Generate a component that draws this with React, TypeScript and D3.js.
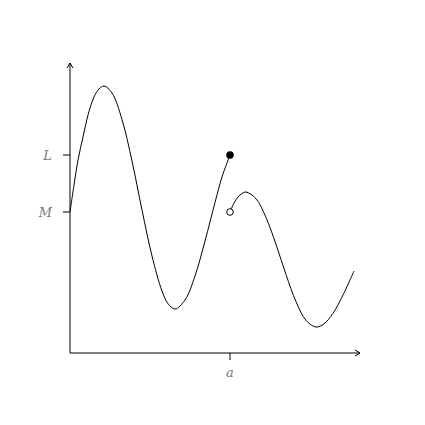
import React from "react";
import * as d3 from "d3";

// curve pieces, in axis units (origin at the axes corner)
const pieceLeft: [number, number][] = [
  [0, 141], [4, 168], [8, 193], [13, 216], [18, 238], [24, 256], [29, 264],
  [34, 267], [42, 260], [52, 233.5], [62, 192], [72, 143], [82, 97], [92, 62],
  [98, 49.4], [105, 44], [115, 53], [125, 77], [135, 112], [145, 150.5],
  [152, 176], [160, 198],
];
const pieceRight: [number, number][] = [
  [160, 141], [164, 150], [168, 156], [172, 159.5], [176, 161], [186, 154.3],
  [196, 135.5], [206, 108.6], [216, 78.4], [226, 51.4], [236, 32.7], [246, 26],
  [254, 29.2], [263, 39.7], [273, 58], [284, 82],
];
const yTicks = [{ v: 198, label: "L" }, { v: 141, label: "M" }];
const xTicks = [{ v: 160, label: "a" }];

const W = 425, H = 425;
const x = d3.scaleLinear().domain([0, 290]).range([70, 360]);
const y = d3.scaleLinear().domain([0, 290]).range([353, 63]);

const App = () => {
  const line = d3.line<[number, number]>()
    .x((d) => x(d[0]))
    .y((d) => y(d[1]))
    .curve(d3.curveCatmullRom);
  const x0 = x(0), y0 = y(0), xEnd = x(290), yEnd = y(290);
  const labelStyle: React.CSSProperties = { fontFamily: "DejaVu Serif", fontStyle: "italic", fontSize: 13, fill: "#777" };
  return (
    <svg width={W} height={H} style={{ position: "absolute", left: 0, top: 0, background: "#fff" }}>
      <g stroke="#000" strokeWidth={1} fill="none">
        <line x1={x0} y1={y0} x2={xEnd} y2={y0} />
        <line x1={x0} y1={y0} x2={x0} y2={yEnd} />
        <path d={`M${xEnd - 5},${y0 - 3} L${xEnd},${y0} L${xEnd - 5},${y0 + 3}`} />
        <path d={`M${x0 - 3},${yEnd + 5} L${x0},${yEnd} L${x0 + 3},${yEnd + 5}`} />
        {yTicks.map((t) => <line key={t.label} x1={x0 - 7} x2={x0} y1={y(t.v)} y2={y(t.v)} />)}
        {xTicks.map((t) => <line key={t.label} x1={x(t.v)} x2={x(t.v)} y1={y0} y2={y0 + 7} />)}
        <path d={line(pieceLeft) || ""} />
        <path d={line(pieceRight) || ""} />
      </g>
      {yTicks.map((t) => (
        <text key={t.label} x={x0 - 18} y={y(t.v)} textAnchor="end" dominantBaseline="central" style={labelStyle}>{t.label}</text>
      ))}
      {xTicks.map((t) => (
        <text key={t.label} x={x(t.v)} y={y0 + 19} textAnchor="middle" dominantBaseline="central" style={labelStyle}>{t.label}</text>
      ))}
      <circle cx={x(pieceLeft[pieceLeft.length - 1][0])} cy={y(pieceLeft[pieceLeft.length - 1][1])} r={3.8} fill="#000" />
      <circle cx={x(pieceRight[0][0])} cy={y(pieceRight[0][1])} r={3.3} fill="#fff" stroke="#000" strokeWidth={1} />
    </svg>
  );
};

export default App;
